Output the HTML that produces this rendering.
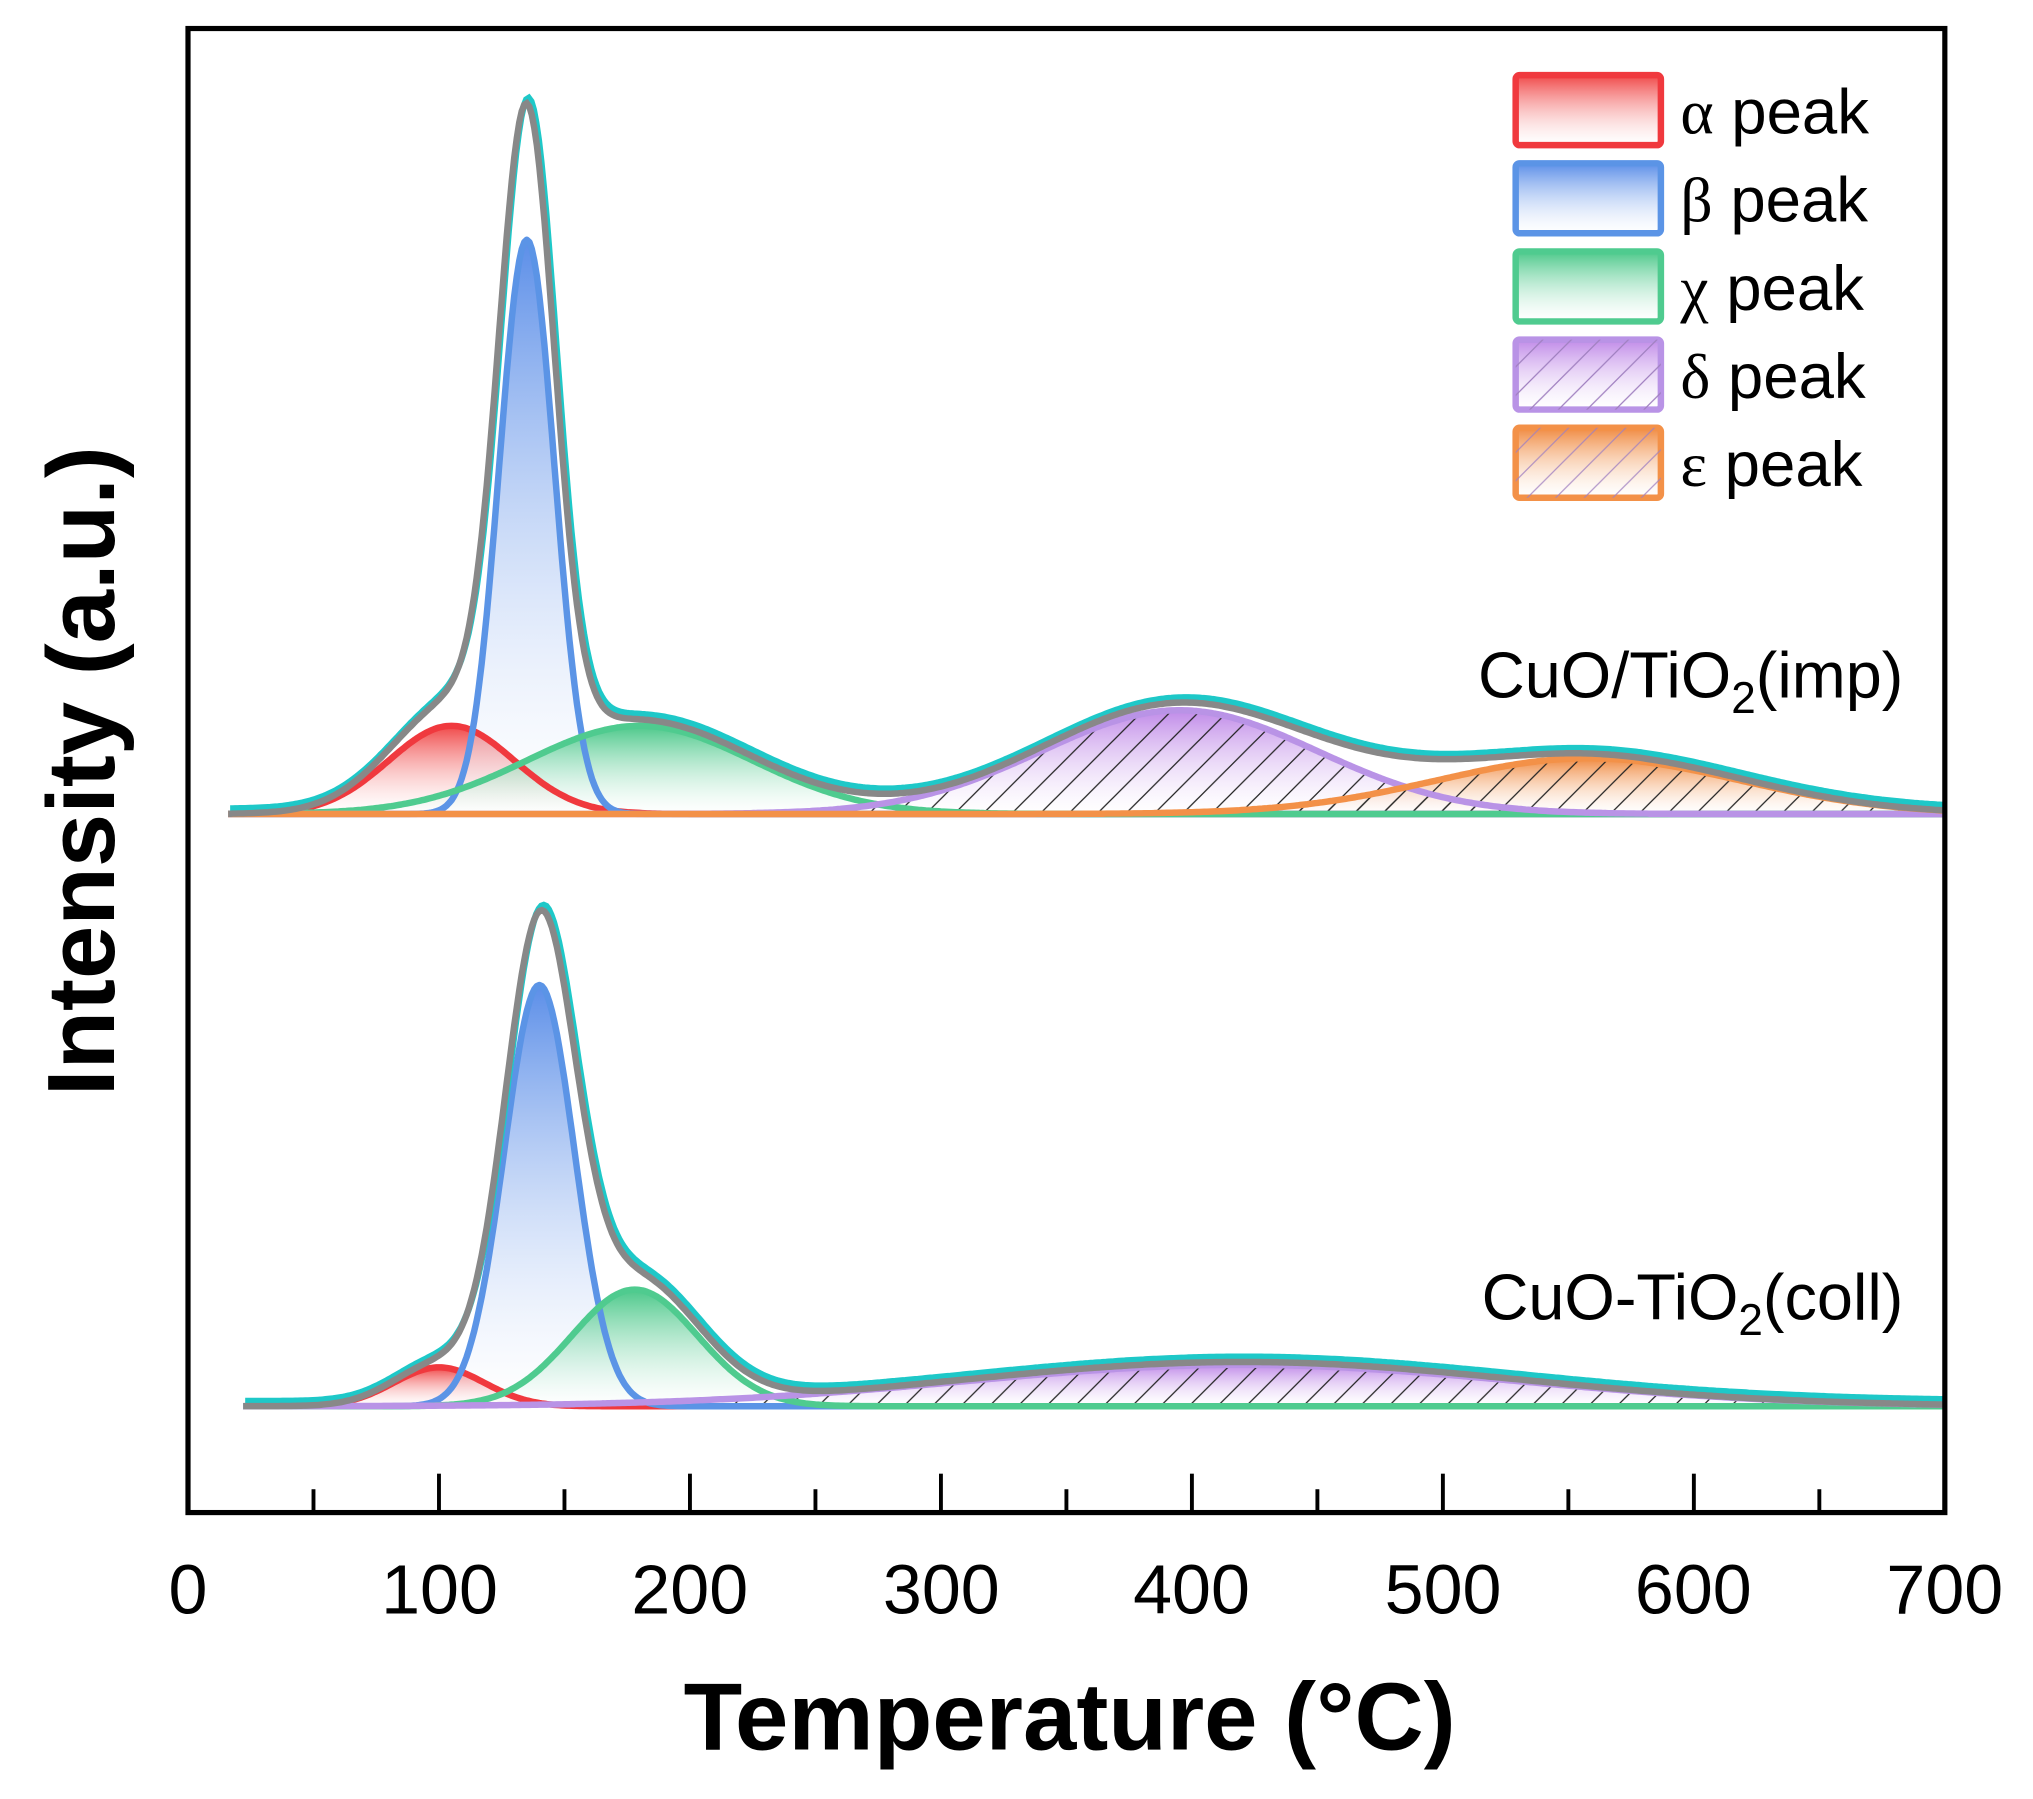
<!DOCTYPE html>
<html><head><meta charset="utf-8"><style>
html,body{margin:0;padding:0;background:#fff;}
svg{display:block;}
text{font-family:"Liberation Sans",Arial,sans-serif;}
</style></head><body>
<svg id="s" width="2033" height="1799" viewBox="0 0 1568 1388" preserveAspectRatio="none" xmlns="http://www.w3.org/2000/svg">
<defs>
<linearGradient id="gr" x1="0" y1="0" x2="0" y2="1"><stop offset="0" stop-color="#f04848"/><stop offset="1" stop-color="#fff" stop-opacity="0.3"/></linearGradient>
<linearGradient id="gb" x1="0" y1="0" x2="0" y2="1"><stop offset="0" stop-color="#5b8ee8"/><stop offset="1" stop-color="#fff" stop-opacity="0.3"/></linearGradient>
<linearGradient id="gg" x1="0" y1="0" x2="0" y2="1"><stop offset="0" stop-color="#4cc88a"/><stop offset="1" stop-color="#fff" stop-opacity="0.3"/></linearGradient>
<linearGradient id="gp" x1="0" y1="0" x2="0" y2="1"><stop offset="0" stop-color="#c08ae8"/><stop offset="1" stop-color="#fff" stop-opacity="0.3"/></linearGradient>
<linearGradient id="go" x1="0" y1="0" x2="0" y2="1"><stop offset="0" stop-color="#f08a40"/><stop offset="1" stop-color="#fff" stop-opacity="0.3"/></linearGradient>
<pattern id="hatch" width="22" height="22" patternUnits="userSpaceOnUse"><path d="M0 22 L22 0 M-5 5 L5 -5 M17 27 L27 17" stroke="#222" stroke-width="1"/></pattern>
<pattern id="hatchL" width="22" height="22" patternUnits="userSpaceOnUse"><path d="M0 22 L22 0 M-5 5 L5 -5 M17 27 L27 17" stroke="#a080c0" stroke-width="1"/></pattern>
</defs>
<g id="plot"></g>
<rect x="145" y="22" width="1355" height="1145" fill="none" stroke="#000" stroke-width="4"/>
<g id="ticks" stroke="#000" stroke-width="3"></g>
<g font-size="54" text-anchor="middle" fill="#000">
<text x="145" y="1245">0</text><text x="339" y="1245">100</text><text x="532" y="1245">200</text><text x="726" y="1245">300</text><text x="919" y="1245">400</text><text x="1113" y="1245">500</text><text x="1306" y="1245">600</text><text x="1500" y="1245">700</text>
</g>
<text x="825" y="1350" font-size="74" font-weight="bold" text-anchor="middle">Temperature (°C)</text>
<text transform="translate(88,595) rotate(-90)" font-size="74" font-weight="bold" text-anchor="middle">Intensity (a.u.)</text>
<text x="1468" y="538" font-size="50" text-anchor="end">CuO/TiO<tspan font-size="34" dy="12">2</tspan><tspan dy="-12">(imp)</tspan></text>
<text x="1468" y="1018" font-size="50" text-anchor="end">CuO-TiO<tspan font-size="34" dy="12">2</tspan><tspan dy="-12">(coll)</tspan></text>
<g stroke-width="5">
<rect x="1169" y="58" width="112" height="54" rx="3" fill="url(#gr)" stroke="#f0393e"/>
<rect x="1169" y="126" width="112" height="54" rx="3" fill="url(#gb)" stroke="#5b94e6"/>
<rect x="1169" y="194" width="112" height="54" rx="3" fill="url(#gg)" stroke="#4fcb8f"/>
<rect x="1169" y="262" width="112" height="54" rx="3" fill="url(#gp)" stroke="#b993e6"/>
<rect x="1169" y="262" width="112" height="54" rx="3" fill="url(#hatchL)" stroke="none"/>
<rect x="1169" y="330" width="112" height="54" rx="3" fill="url(#go)" stroke="#f39148"/>
<rect x="1169" y="330" width="112" height="54" rx="3" fill="url(#hatchL)" stroke="none" opacity="0.8"/>
</g>
<g font-size="49" fill="#000">
<text x="1296" y="103"><tspan font-family="Liberation Serif">α</tspan> peak</text>
<text x="1296" y="171"><tspan font-family="Liberation Serif">β</tspan> peak</text>
<text x="1296" y="239"><tspan font-family="Liberation Serif">χ</tspan> peak</text>
<text x="1296" y="307"><tspan font-family="Liberation Serif">δ</tspan> peak</text>
<text x="1296" y="375"><tspan font-family="Liberation Serif">ε</tspan> peak</text>
</g>
</svg>
<script>
(function(){
var NS="http://www.w3.org/2000/svg";
var plot=document.getElementById('plot'), tk=document.getElementById('ticks');
function X(t){return 145+t*1355/700;}
for(var t=50;t<700;t+=50){var l=document.createElementNS(NS,'line');var maj=t%100==0;
l.setAttribute('x1',X(t));l.setAttribute('x2',X(t));l.setAttribute('y1',1167);l.setAttribute('y2',maj?1137:1149);tk.appendChild(l);}
function g(t,p){return p[1]*Math.exp(-0.5*Math.pow((t-p[0])/p[2],2));}
function add(tag,attrs){var e=document.createElementNS(NS,tag);for(var k in attrs)e.setAttribute(k,attrs[k]);plot.appendChild(e);return e;}
function panel(base,comps,t0,sumScale){
  comps.forEach(function(c){
    var d='M'+X(t0)+' '+base;
    for(var t=t0;t<=700;t+=1){d+=' L'+X(t).toFixed(1)+' '+(base-g(t,c.p)).toFixed(1);}
    d+=' L'+X(700)+' '+base+' Z';
    add('path',{d:d,fill:'url(#'+c.grad+')',stroke:'none'});
    if(c.hatch)add('path',{d:d,fill:'url(#hatch)',stroke:'none'});
  });
  comps.forEach(function(c){
    var d='';
    for(var t=t0;t<=700;t+=1){d+=(d?' L':'M')+X(t).toFixed(1)+' '+(base-g(t,c.p)).toFixed(1);}
    add('path',{d:d,fill:'none',stroke:c.col,'stroke-width':5,'stroke-linejoin':'round'});
  });
  var dc='',dg='';
  for(var t=t0;t<=700;t+=1){var s=0;comps.forEach(function(c){s+=g(t,c.p);});
    dc+=(dc?' L':'M')+(X(t)+1.5).toFixed(1)+' '+(base-s*sumScale-4).toFixed(1);
    dg+=(dg?' L':'M')+X(t).toFixed(1)+' '+(base-s*sumScale).toFixed(1);}
  add('path',{d:dc,fill:'none',stroke:'#1ec8c8','stroke-width':5});
  add('path',{d:dg,fill:'none',stroke:'#888','stroke-width':5});
}
panel(628,[
 {p:[105,68,25],grad:'gr',col:'#f0393e'},
 {p:[135,443,11],grad:'gb',col:'#5b94e6'},
 {p:[180,68,45],grad:'gg',col:'#4fcb8f'},
 {p:[395,80,55],grad:'gp',col:'#b993e6',hatch:1},
 {p:[558,43,60],grad:'go',col:'#f39148',hatch:1}
],16,1.06);
panel(1085,[
 {p:[100,30,18],grad:'gr',col:'#f0393e'},
 {p:[140,325,14],grad:'gb',col:'#5b94e6'},
 {p:[178,90,25],grad:'gg',col:'#4fcb8f'},
 {p:[420,32,110],grad:'gp',col:'#b993e6',hatch:1}
],22,1.07);
})();
</script>
</body></html>
